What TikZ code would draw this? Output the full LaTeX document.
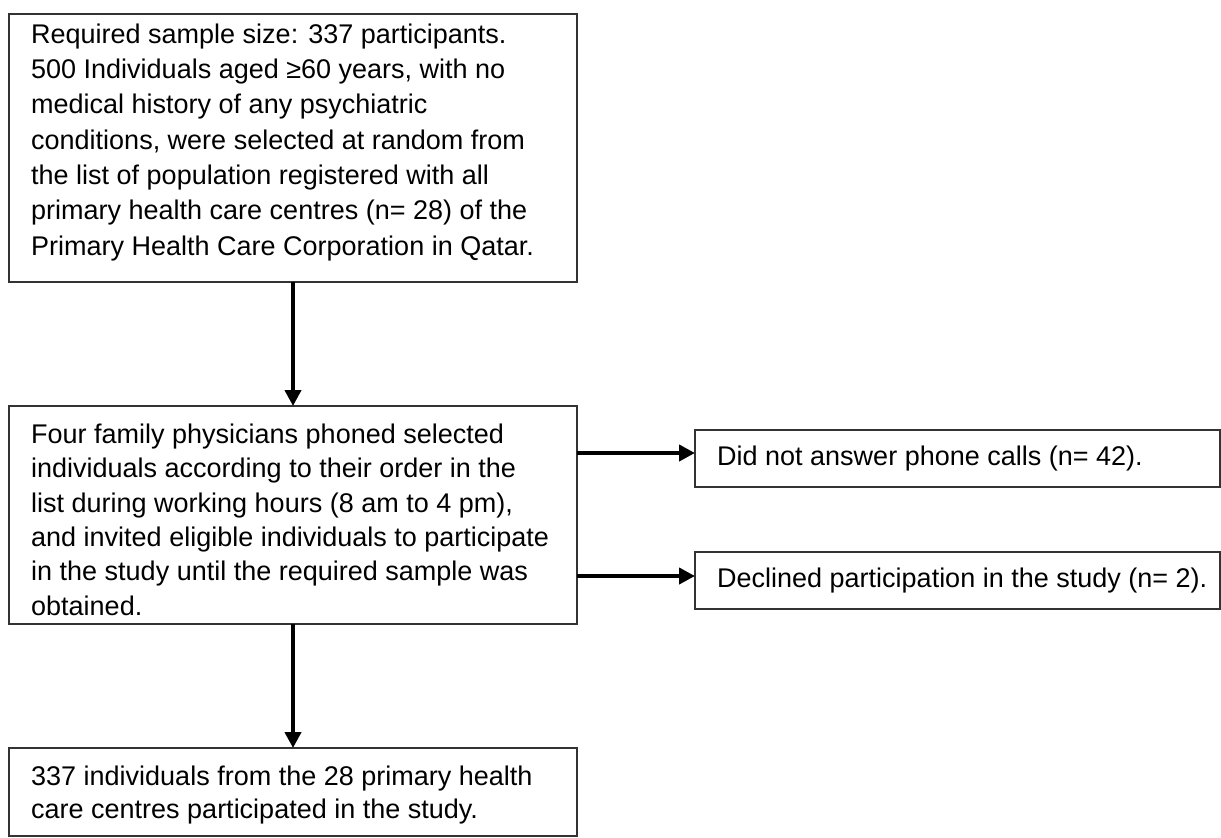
\documentclass[tikz,border=0pt]{standalone}
\usepackage{fontspec}
\setmainfont{Liberation Sans}
\usetikzlibrary{arrows.meta}
\begin{document}
\begin{tikzpicture}[x=1pt,y=-1pt,
  box/.style={draw=black!80, line width=2pt, anchor=north west, inner sep=0pt, outer sep=0pt},
  txt/.style={align=left, inner sep=0pt, text=black},
  arr/.style={line width=4pt, black, -{Triangle[length=16pt,width=16pt]}}
]
\useasboundingbox (0,0) rectangle (1221,838);
\node[box, minimum width=568pt, minimum height=268pt] (b1) at (9,14) {};
\node[box, minimum width=568pt, minimum height=218pt] (b2) at (9,406) {};
\node[box, minimum width=525pt, minimum height=57pt] (b3) at (695,430) {};
\node[box, minimum width=525pt, minimum height=57pt] (b4) at (695,552) {};
\node[box, minimum width=568pt, minimum height=88pt] (b5) at (9,748) {};

\node[txt, anchor=north west, font=\fontsize{27}{35.3}\selectfont] (t1) at (31,23.5)
 {Required sample size: 337 participants.\\
  500 Individuals aged ≥60 years, with no\\
  medical history of any psychiatric\\
  conditions, were selected at random from\\
  the list of population registered with all\\
  primary health care centres (n= 28) of the\\
  Primary Health Care Corporation in Qatar.};
\node[txt, anchor=north west, font=\fontsize{27}{34.4}\selectfont] (t2) at (31,423.5)
 {Four family physicians phoned selected\\
  individuals according to their order in the\\
  list during working hours (8 am to 4 pm),\\
  and invited eligible individuals to participate\\
  in the study until the required sample was\\
  obtained.};
\node[txt, anchor=base west, font=\fontsize{27}{33}\selectfont] (t3) at (717,465)
 {Did not answer phone calls (n= 42).};
\node[txt, anchor=base west, font=\fontsize{27}{33}\selectfont] (t4) at (717,587)
 {Declined participation in the study (n= 2).};
\node[txt, anchor=north west, font=\fontsize{27}{33.3}\selectfont] (t5) at (31,765.5)
 {337 individuals from the 28 primary health\\
  care centres participated in the study.};

\draw[arr] (b1) -- (b2);
\draw[arr] (b2) -- (b5);
\draw[arr] ([yshift=5.5pt]b2.east |- b3.west) -- ([yshift=5.5pt]b3.west);
\draw[arr] ([yshift=4.5pt]b2.east |- b4.west) -- ([yshift=4.5pt]b4.west);
\end{tikzpicture}
\end{document}
